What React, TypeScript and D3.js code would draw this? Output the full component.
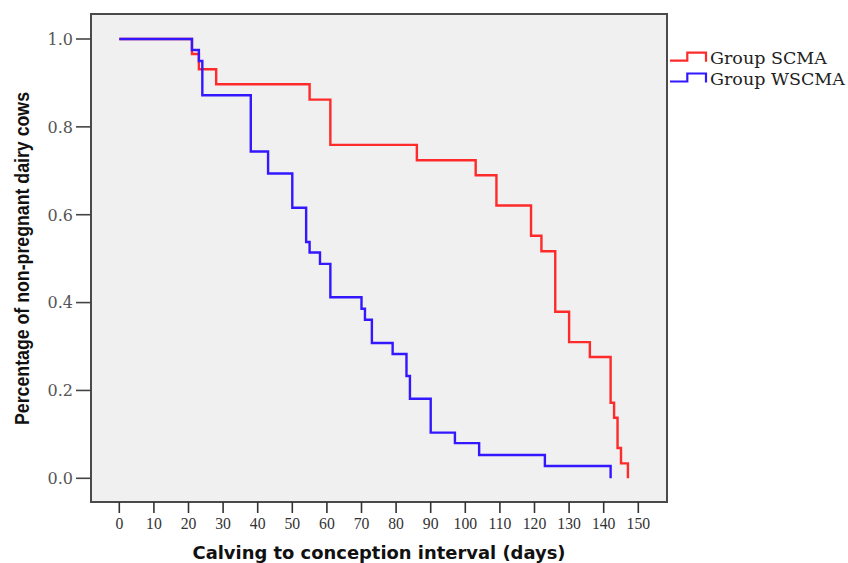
import * as d3 from "d3"

// Kaplan-Meier steps: event day and survival after it
const scmaDays = [21, 23, 28, 55, 61, 86, 103, 109, 119, 122, 126, 130, 136, 142, 143, 144, 145, 147]
const scmaSurv = [0.966, 0.931, 0.897, 0.862, 0.759, 0.724, 0.69, 0.621, 0.552, 0.517, 0.379, 0.31, 0.276, 0.172, 0.138, 0.069, 0.034, 0.0]

const wscmaDays = [21, 23, 24, 38, 43, 50, 54, 55, 58, 61, 70, 71, 73, 79, 83, 84, 90, 97, 104, 123, 142]
const wscmaSurv = [0.975, 0.95, 0.872, 0.744, 0.694, 0.616, 0.538, 0.514, 0.488, 0.412, 0.386, 0.361, 0.308, 0.283, 0.233, 0.181, 0.104, 0.08, 0.053, 0.028, 0.0]

const xTicks = [0, 10, 20, 30, 40, 50, 60, 70, 80, 90, 100, 110, 120, 130, 140, 150]
const yTicks = [0, 0.2, 0.4, 0.6, 0.8, 1.0]

const groups = [
  { name: "Group SCMA", days: scmaDays, surv: scmaSurv, color: "#ff2a2a" },
  { name: "Group WSCMA", days: wscmaDays, surv: wscmaSurv, color: "#3217ff" },
]

const W = 848
const H = 563
const frame = { left: 91, top: 14, right: 667, bottom: 502 }

export default function App() {
  const x = d3.scaleLinear().domain([0, 150]).range([119.3, 638.3])
  const y = d3.scaleLinear().domain([0, 1]).range([478.3, 39])

  const line = d3.line<[number, number]>()
    .x(d => x(d[0]))
    .y(d => y(d[1]))
    .curve(d3.curveStepAfter)

  const pathFor = (days: number[], surv: number[]) => {
    const pts: [number, number][] = [[0, 1]]
    days.forEach((t, i) => pts.push([t, surv[i]]))
    return line(pts) || ""
  }

  return (
    <svg width={W} height={H} style={{ position: "absolute", left: 0, top: 0, background: "#fff" }}>
      <rect x={frame.left} y={frame.top} width={frame.right - frame.left} height={frame.bottom - frame.top}
        fill="#f0f0f0" stroke="#4a4a4a" strokeWidth={2} />

      {/* y axis */}
      {yTicks.map(v => (
        <g key={v}>
          <line x1={76} x2={frame.left} y1={y(v)} y2={y(v)} stroke="#444" strokeWidth={1.6} />
          <text x={73} y={y(v) + 5.8} textAnchor="end" fontFamily="DejaVu Serif" fontSize={16} fill="#555">
            {v.toFixed(1)}
          </text>
        </g>
      ))}

      {/* x axis */}
      {xTicks.map(v => (
        <g key={v}>
          <line x1={x(v)} x2={x(v)} y1={frame.bottom} y2={513} stroke="#333" strokeWidth={1.6} />
          <text x={x(v)} y={528.8} textAnchor="middle" fontFamily="Liberation Serif" fontSize={15.7} fill="#333">
            {v}
          </text>
        </g>
      ))}

      {groups.map(g => (
        <path key={g.name} d={pathFor(g.days, g.surv)} fill="none" stroke={g.color} strokeWidth={2.4} />
      ))}

      {/* legend */}
      {groups.map((g, i) => {
        const dy = i * 20.8
        return (
          <g key={g.name} transform={`translate(0,${dy})`}>
            <path d="M670,60.7H687.3V52.7H706V61.7" fill="none" stroke={g.color} strokeWidth={2.2} />
            <text x={710} y={64.2} fontFamily="DejaVu Serif" fontSize={17.5} fill="#222">{g.name}</text>
          </g>
        )
      })}

      <text x={(frame.left + frame.right) / 2} y={559} textAnchor="middle" fontFamily="DejaVu Sans"
        fontWeight="bold" fontSize={17.5} textLength={373} lengthAdjust="spacingAndGlyphs" fill="#111">
        Calving to conception interval (days)
      </text>
      <text transform="translate(28.5,258.5) rotate(-90)" textAnchor="middle"
        fontFamily="'Liberation Sans Narrow', 'Liberation Sans', Arial" fontWeight="bold" fontSize={20}
        textLength={333} lengthAdjust="spacingAndGlyphs" fill="#111">
        Percentage of non-pregnant dairy cows
      </text>
    </svg>
  )
}
